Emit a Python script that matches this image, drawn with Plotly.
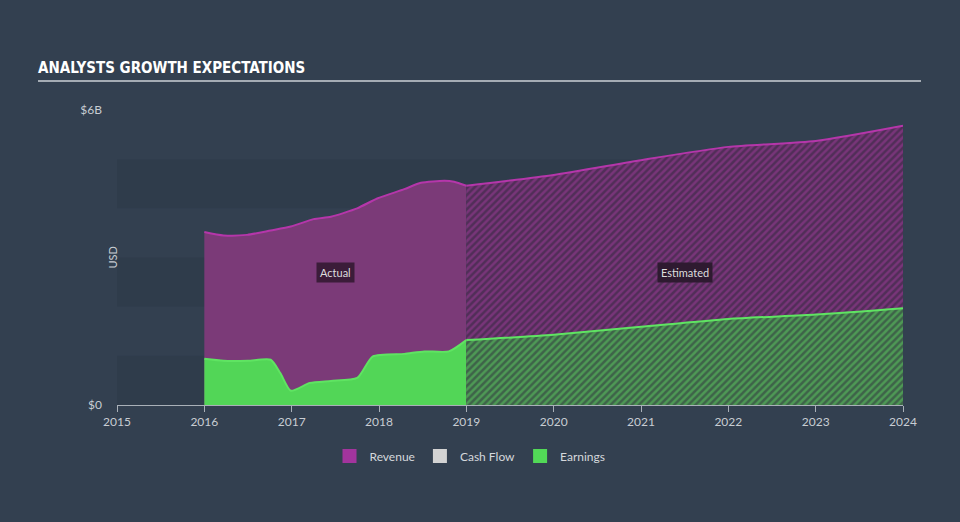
import plotly.graph_objects as go

# ---- data (USD billions) ----
rev_act_x = [2016.0, 2016.22, 2016.49, 2016.76, 2016.99, 2017.25, 2017.45, 2017.75, 2017.98, 2018.29, 2018.48, 2018.75, 2018.86, 2019.0]
rev_act_y = [3.52, 3.45, 3.46, 3.55, 3.63, 3.78, 3.83, 4.00, 4.20, 4.39, 4.52, 4.56, 4.54, 4.46]
earn_act_x = [2016.0, 2016.22, 2016.5, 2016.76, 2016.87, 2016.99, 2017.21, 2017.45, 2017.75, 2017.93, 2018.29, 2018.52, 2018.8, 2019.0]
earn_act_y = [0.94, 0.90, 0.90, 0.92, 0.65, 0.29, 0.45, 0.49, 0.55, 0.99, 1.04, 1.09, 1.09, 1.32]
est_x = [2019.0, 2020.0, 2021.0, 2022.0, 2023.0, 2024.0]
rev_est_y = [4.46, 4.68, 4.98, 5.25, 5.37, 5.68]
earn_est_y = [1.32, 1.43, 1.59, 1.75, 1.84, 1.97]
year_ticks = [2015, 2016, 2017, 2018, 2019, 2020, 2021, 2022, 2023, 2024]
y_tickvals = [0, 6]
y_ticktext = ["$0", "$6B"]
legend_names = ["Revenue", "Cash Flow", "Earnings"]
legend_colors = ["#A3349D", "#D3D3D3", "#52D957"]

BG = "#334050"
fig = go.Figure()

# bands
for lo in [0, 2, 4]:
    fig.add_shape(type="rect", xref="x", yref="y", x0=2015, x1=2024, y0=lo, y1=lo + 1,
                  fillcolor="rgba(20,28,40,0.10)", line_width=0, layer="below")

# Actual revenue
fig.add_trace(go.Scatter(x=rev_act_x, y=rev_act_y, mode="lines", line=dict(color="#B536AA", width=2, shape="spline", smoothing=0.6),
                         fill="tozeroy", fillcolor="#7B3A78", showlegend=False, hoverinfo="skip"))
# Estimated revenue (hatched)
fig.add_trace(go.Scatter(x=est_x, y=rev_est_y, mode="lines", line=dict(color="#B536AA", width=2, shape="spline", smoothing=0.6),
                         fill="tozeroy", fillcolor="#5A3060",
                         fillpattern=dict(shape="/", bgcolor="#512E58", fgcolor="#A03C99", size=5, solidity=0.5),
                         showlegend=False, hoverinfo="skip"))
# Actual earnings
fig.add_trace(go.Scatter(x=earn_act_x, y=earn_act_y, mode="lines", line=dict(color="#5FE462", width=2, shape="spline", smoothing=0.6),
                         fill="tozeroy", fillcolor="#52D657", showlegend=False, hoverinfo="skip"))
# Estimated earnings (hatched)
fig.add_trace(go.Scatter(x=est_x, y=earn_est_y, mode="lines", line=dict(color="#5FE462", width=2, shape="spline", smoothing=0.6),
                         fill="tozeroy", fillcolor="#3D6745",
                         fillpattern=dict(shape="/", bgcolor="#3E6349", fgcolor="#5DD062", size=5, solidity=0.5),
                         showlegend=False, hoverinfo="skip"))

# legend entries
for n, c in zip(legend_names, legend_colors):
    fig.add_trace(go.Scatter(x=[None], y=[None], mode="markers", name=n,
                             marker=dict(symbol="square", size=14, color=c)))

fig.add_annotation(x=2017.5, y=2.7, text="Actual", showarrow=False, bgcolor="#3B1C39",
                   font=dict(color="#DDDDDD", size=11, family="Lato"), borderpad=3)
fig.add_annotation(x=2021.5, y=2.7, text="Estimated", showarrow=False, bgcolor="#2E1A30",
                   font=dict(color="#DDDDDD", size=11, family="Lato"), borderpad=3)

# USD label
fig.add_annotation(xref="paper", yref="paper", x=(103 - 117) / 786, y=(405 - 258) / 295, text="USD",
                   textangle=-90, showarrow=False, font=dict(color="#C8CDD3", size=11, family="Lato"))

# title line
fig.add_shape(type="line", xref="paper", yref="paper", x0=(38 - 117) / 786, x1=(921 - 117) / 786,
              y0=(405 - 81) / 295, y1=(405 - 81) / 295, line=dict(color="#A5ACB4", width=2))

fig.update_layout(
    width=960, height=522,
    paper_bgcolor=BG, plot_bgcolor=BG,
    margin=dict(l=117, r=57, t=110, b=117),
    title=dict(text="<b>ANALYSTS GROWTH EXPECTATIONS</b>", xref="container", yref="container",
               x=38 / 960, xanchor="left", y=1 - 68 / 522, yanchor="middle",
               font=dict(family="DejaVu Sans Condensed, Liberation Sans Narrow, sans-serif", size=15, color="#FFFFFF")),
    xaxis=dict(range=[2015, 2024], tickvals=year_ticks, showgrid=False, zeroline=False,
               showline=True, linecolor="#A9B0B8", linewidth=1, ticks="outside", ticklen=6, tickcolor="#A9B0B8",
               tickfont=dict(color="#C8CDD3", size=12, family="Lato")),
    yaxis=dict(range=[0, 6], tickvals=y_tickvals, ticktext=y_ticktext, showgrid=False, zeroline=False,
               showline=False, ticks="", ticklabelstandoff=14,
               tickfont=dict(color="#C8CDD3", size=12, family="Lato")),
    legend=dict(orientation="h", x=(470 - 117) / 786, xanchor="center", y=(405 - 456) / 295, yanchor="middle",
                font=dict(color="#D5D8DC", size=12, family="Lato"), bgcolor="rgba(0,0,0,0)"),
    hovermode=False,
)

fig.write_html("out.html")
